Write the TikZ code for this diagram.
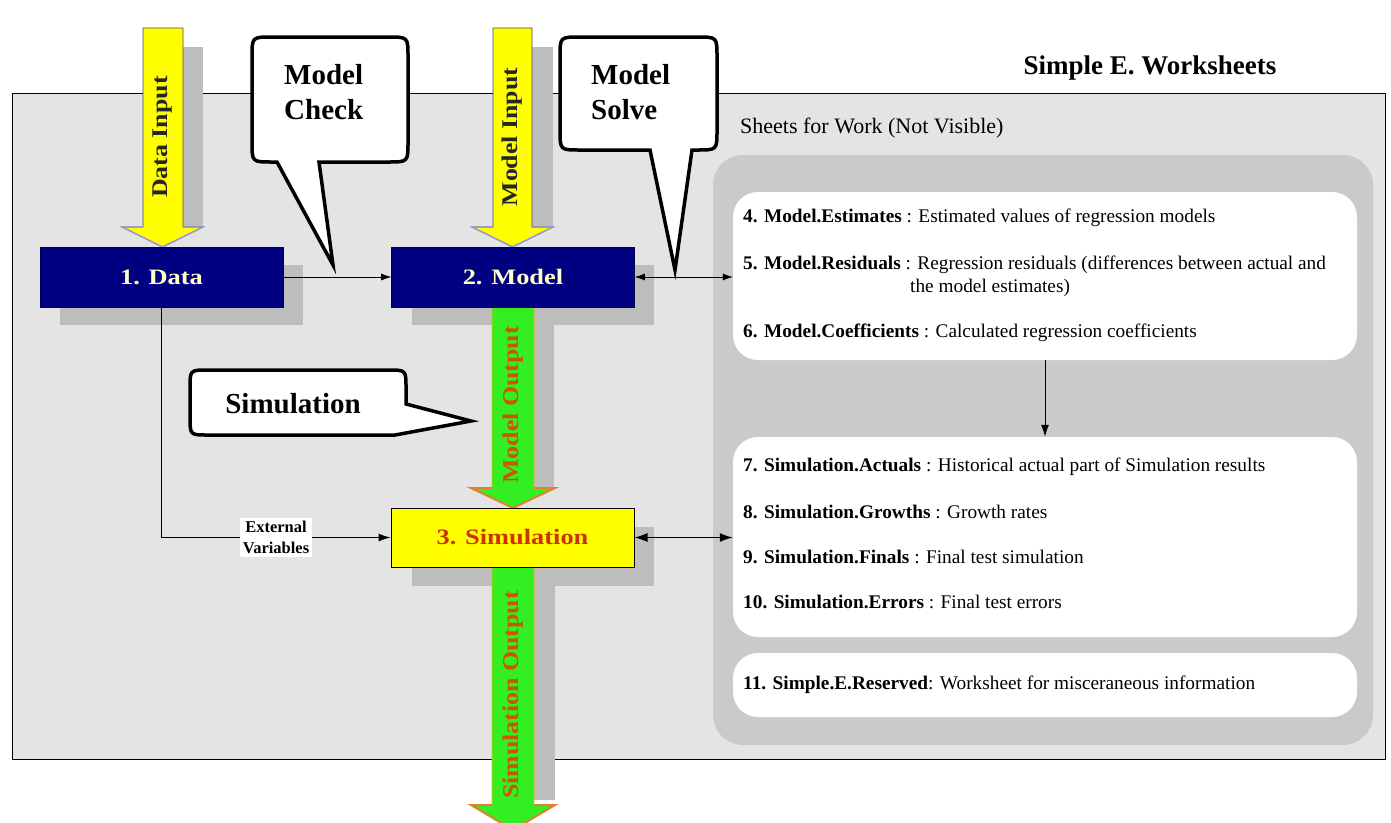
\documentclass[tikz,border=0pt]{standalone}
\usepackage{fontspec}
\setmainfont{Liberation Serif}
\newfontfamily\widefont[FakeStretch=1.2]{Liberation Serif}
\newfontfamily\arrfont[FakeStretch=1.15]{Liberation Serif}
\usetikzlibrary{arrows.meta}
\definecolor{framegray}{HTML}{E4E4E4}
\definecolor{panelgray}{HTML}{CACACA}
\definecolor{shadowgray}{HTML}{BDBDBD}
\definecolor{navyfill}{HTML}{000080}
\definecolor{paleyellow}{HTML}{FFFFCC}
\definecolor{simred}{HTML}{CC3300}
\definecolor{arrgreen}{HTML}{33EE22}
\definecolor{arryellow}{HTML}{FFFF00}
\definecolor{outorange}{HTML}{CC5500}
\definecolor{headorange}{HTML}{E08030}
\definecolor{headlilac}{HTML}{9999CC}
\tikzset{
  navystep/.style={fill=navyfill, draw=navyfill!60!black, line width=0.6pt, minimum width=243pt, minimum height=60pt, inner sep=0pt, text=paleyellow, font=\widefont\bfseries\fontsize{22}{26}\selectfont},
  simstep/.style={fill=arryellow, draw=black, line width=1pt, minimum width=243pt, minimum height=59pt, inner sep=0pt, text=simred, font=\widefont\bfseries\fontsize{22}{26}\selectfont},
  sheetbox/.style={fill=white, rounded corners=25pt, minimum width=624pt, inner sep=0pt},
  rowtext/.style={anchor=west, inner sep=0pt, font=\fontsize{19.3}{23}\selectfont},
  calloutshape/.style={draw=black, line width=3.5pt, fill=white, line join=miter},
  calltext/.style={font=\bfseries\fontsize{29}{35}\selectfont, align=left, inner sep=0pt},
  arrtext/.style={rotate=90, inner sep=0pt, font=\arrfont\bfseries\fontsize{22.5}{26}\selectfont},
  yellowarrow/.style={fill=arryellow, draw=black!70, line width=0.6pt},
  greenarrow/.style={fill=arrgreen, draw=orange!60!yellow, line width=0.6pt},
  shadowfill/.style={fill=shadowgray},
  thinconn/.style={-{Latex[length=10pt,width=7pt]}, line width=0.6pt},
  twoconn/.style={{Latex[length=10pt,width=7pt]}-{Latex[length=10pt,width=7pt]}, line width=0.6pt},
  thickconn/.style={{Latex[length=13pt,width=9pt]}-{Latex[length=13pt,width=9pt]}, line width=1.3pt},
  downconn/.style={-{Latex[length=12pt,width=8pt]}, line width=1pt},
}
\begin{document}
\begin{tikzpicture}[x=1pt,y=-1pt]
\clip (0,0) rectangle (1391,822);
\fill[white] (0,0) rectangle (1391,822);
% outer frame
\draw[fill=framegray, line width=1pt] (12,93) rectangle (1385,759);
\node[inner sep=0pt, font=\bfseries\fontsize{27}{32}\selectfont] (title) at (1150,68) {Simple E. Worksheets};
\node[anchor=west, inner sep=0pt, font=\fontsize{22}{26}\selectfont] (sheets) at (740,128) {Sheets for Work (Not Visible)};
% right panel
\node[fill=panelgray, rounded corners=30pt, minimum width=660pt, minimum height=590pt, inner sep=0pt] (panel) at (1043,450) {};
\node[sheetbox, minimum height=168pt] (box1) at (1045,276) {};
\node[sheetbox, minimum height=200pt] (box2) at (1045,537) {};
\node[sheetbox, minimum height=64pt] (box3) at (1045,685) {};
\node[rowtext] (r4) at (743,218) {\textbf{4. Model.Estimates} : Estimated values of regression models};
\node[rowtext] (r5) at (743,265) {\textbf{5. Model.Residuals} : Regression residuals (differences between actual and};
\node[rowtext] (r5b) at (910,288) {the model estimates)};
\node[rowtext] (r6) at (743,333) {\textbf{6. Model.Coefficients} : Calculated regression coefficients};
\node[rowtext] (r7) at (743,467) {\textbf{7. Simulation.Actuals} : Historical actual part of Simulation results};
\node[rowtext] (r8) at (743,512) {\textbf{8. Simulation.Growths} : Growth rates};
\node[rowtext] (r9) at (743,557) {\textbf{9. Simulation.Finals} : Final test simulation};
\node[rowtext] (r10) at (743,602) {\textbf{10. Simulation.Errors} : Final test errors};
\node[rowtext] (r11) at (743,685) {\textbf{11. Simple.E.Reserved}: Worksheet for misceraneous information};
% shadows
\fill[shadowfill] (60,265) rectangle (303,325);
\fill[shadowfill] (412,265) rectangle (654,325);
\fill[shadowfill] (412,527) rectangle (654,586);
\fill[shadowfill] (183,47) rectangle (203,227);
\fill[shadowfill] (532,47) rectangle (553,227);
\fill[shadowfill] (534,305) rectangle (554,490);
\fill[shadowfill] (533,567) rectangle (555,800);
% block arrows
\draw[yellowarrow] (143,28) -- (183,28) -- (183,227) -- (203,227) -- (162.5,247) -- (122,227) -- (143,227) -- cycle;
\draw[headlilac, line width=1.5pt] (183,227) -- (203,227) -- (162.5,247) -- (122,227) -- (143,227);
\draw[yellowarrow] (493,28) -- (532,28) -- (532,227) -- (553,227) -- (512.5,247) -- (472,227) -- (493,227) -- cycle;
\draw[headlilac, line width=1.5pt] (532,227) -- (553,227) -- (512.5,247) -- (472,227) -- (493,227);
\draw[greenarrow] (492,305) -- (534,305) -- (534,488) -- (555,488) -- (513,508) -- (471,488) -- (492,488) -- cycle;
\draw[headorange, line width=2pt] (534,488) -- (555,488) -- (513,508) -- (471,488) -- (492,488);
\draw[greenarrow] (492,567) -- (534,567) -- (534,805) -- (555,805) -- (513,830) -- (471,805) -- (492,805) -- cycle;
\draw[headorange, line width=2pt] (534,805) -- (555,805) -- (513,830) -- (471,805) -- (492,805);
\node[arrtext, text=black!85] (tdata) at (163,137) {Data Input};
\node[arrtext, text=black!85] (tmodel) at (512.5,137) {Model Input};
\node[arrtext, text=outorange] (tmout) at (513,405) {Model Output};
\node[arrtext, text=outorange] (tsout) at (513,695) {Simulation Output};
% step boxes
\node[navystep] (data) at (161.5,277) {1. Data};
\node[navystep] (model) at (513,277) {2. Model};
\node[simstep] (sim) at (512.5,537.5) {3. Simulation};
% connectors
\draw[thinconn] (data.east) -- (model.west);
\draw[twoconn] (model.east) -- (model.east -| box1.west);
\draw[thickconn] (sim.east) -- (sim.east -| box2.west);
\draw[downconn] (box1.south) -- (box2.north);
\draw[downconn] (data.south) |- (sim.west)
  node[pos=0.75, fill=white, inner sep=3pt, align=center, font=\bfseries\fontsize{16.5}{21}\selectfont] (extvar) {External\\Variables};
% callouts
\draw[calloutshape] (272,37) -- (388,37) .. controls (408,37) .. (408,57) -- (408,142) .. controls (408,162) .. (388,162) -- (319,162) -- (333,265) -- (277,162) -- (272,162) .. controls (252,162) .. (252,142) -- (252,57) .. controls (252,37) .. (272,37) -- cycle;
\node[calltext, anchor=west] (mcheck) at (284,92) {Model\\Check};
\draw[calloutshape] (580,37) -- (697,37) .. controls (717,37) .. (717,57) -- (717,130) .. controls (717,150) .. (697,150) -- (692,150) -- (675,270) -- (650,150) -- (580,150) .. controls (560,150) .. (560,130) -- (560,57) .. controls (560,37) .. (580,37) -- cycle;
\node[calltext, anchor=west] (msolve) at (591,92) {Model\\Solve};
\draw[calloutshape] (208,370) -- (388,370) .. controls (406,370) .. (406,388) -- (406,404) -- (471,421) -- (395,435) -- (208,435) .. controls (190,435) .. (190,417) -- (190,388) .. controls (190,370) .. (208,370) -- cycle;
\node[calltext] (simcall) at (293,404) {Simulation};
\end{tikzpicture}
\end{document}
